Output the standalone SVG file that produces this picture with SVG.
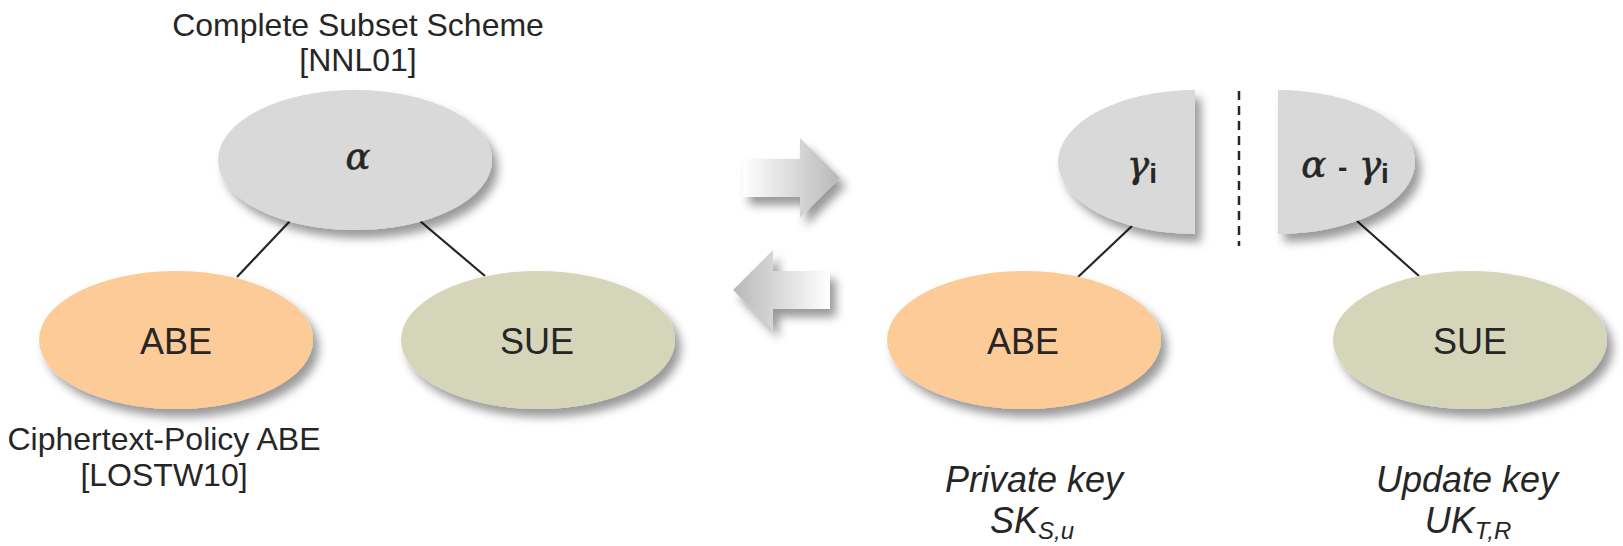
<svg xmlns="http://www.w3.org/2000/svg" width="1623" height="546" viewBox="0 0 1623 546">
  <defs>
    <filter id="shadow" x="-20%" y="-20%" width="150%" height="160%">
      <feDropShadow dx="6" dy="8" stdDeviation="5" flood-color="#000" flood-opacity="0.4"/>
    </filter>
    <linearGradient id="gradRight" x1="0" y1="0" x2="1" y2="0">
      <stop offset="0" stop-color="#ffffff"/>
      <stop offset="1" stop-color="#b8b8b8"/>
    </linearGradient>
    <linearGradient id="gradLeft" x1="0" y1="0" x2="1" y2="0">
      <stop offset="0" stop-color="#b8b8b8"/>
      <stop offset="1" stop-color="#ffffff"/>
    </linearGradient>
    <style>
      .lbl { font-family: "Liberation Sans", Arial, sans-serif; fill: #262626; text-anchor: middle; }
      .cap { font-size: 32px; }
      .node { font-size: 36px; }
      .key { font-size: 36px; font-style: italic; }
      .sub { font-size: 24px; }
      .math { font-family: "DejaVu Serif", "Liberation Serif", serif; font-style: italic; font-size: 37px; fill: #262626; stroke: #262626; stroke-width: 0.6; }
      .idx { font-family: "Liberation Sans", Arial, sans-serif; font-style: normal; font-weight: bold; font-size: 28px; stroke: none; }
      .grey { fill: #d9d9d9; filter: url(#shadow); }
      .abe { fill: #fdcb98; filter: url(#shadow); }
      .sue { fill: #d5d6b9; filter: url(#shadow); }
      .edge { stroke: #262626; stroke-width: 2.2; fill: none; }
    </style>
  </defs>

  <rect width="1623" height="546" fill="#ffffff"/>

  <!-- connectors -->
  <g id="connectors">
    <line class="edge" x1="290" y1="221" x2="237" y2="277"/>
    <line class="edge" x1="420" y1="221" x2="485" y2="276"/>
    <line class="edge" x1="1132" y1="226" x2="1078" y2="277"/>
    <line class="edge" x1="1357" y1="221" x2="1419" y2="276"/>
    <line x1="1239" y1="91" x2="1239" y2="246" stroke="#262626" stroke-width="2.5" stroke-dasharray="9 6"/>
  </g>

  <!-- left tree -->
  <g id="title">
    <text class="lbl cap" x="358" y="36">Complete Subset Scheme</text>
    <text class="lbl cap" x="358" y="71">[NNL01]</text>
  </g>

  <g id="node-alpha">
    <ellipse class="grey" cx="355" cy="160" rx="137" ry="70"/>
    <text class="math" x="358" y="169" text-anchor="middle">α</text>
  </g>

  <g id="node-abe-left">
    <ellipse class="abe" cx="176" cy="340" rx="137" ry="69"/>
    <text class="lbl node" x="176" y="354">ABE</text>
  </g>

  <g id="node-sue-left">
    <ellipse class="sue" cx="538" cy="340" rx="137" ry="69"/>
    <text class="lbl node" x="537" y="354">SUE</text>
  </g>

  <g id="cpabe-label">
    <text class="lbl cap" x="164" y="450">Ciphertext-Policy ABE</text>
    <text class="lbl cap" x="164" y="486">[LOSTW10]</text>
  </g>

  <!-- transition arrows -->
  <g id="arrow-forward">
    <polygon points="743,159 800,159 800,138 840,178 800,218 800,197 743,197" fill="url(#gradRight)" filter="url(#shadow)"/>
  </g>
  <g id="arrow-back">
    <polygon points="830,271 773,271 773,250 733,290 773,330 773,309 830,309" fill="url(#gradLeft)" filter="url(#shadow)"/>
  </g>

  <!-- right tree: split key -->
  <g id="node-gamma">
    <path class="grey" d="M1195,90 A137,72 0 0 0 1195,234 Z"/>
    <text class="math" x="1142" y="177" text-anchor="middle">γ<tspan class="idx" dy="6">i</tspan></text>
  </g>

  <g id="node-alpha-minus-gamma">
    <path class="grey" d="M1278,90 A137,72 0 0 1 1278,234 Z"/>
    <text class="math" x="1345" y="177" text-anchor="middle">α <tspan class="idx" font-size="32">-</tspan> γ<tspan class="idx" dy="6">i</tspan></text>
  </g>

  <g id="node-abe-right">
    <ellipse class="abe" cx="1024" cy="340" rx="137" ry="69"/>
    <text class="lbl node" x="1023" y="354">ABE</text>
  </g>

  <g id="node-sue-right">
    <ellipse class="sue" cx="1470" cy="340" rx="137" ry="69"/>
    <text class="lbl node" x="1470" y="354">SUE</text>
  </g>

  <g id="private-key-label">
    <text class="lbl key" x="1034" y="492">Private key</text>
    <text class="lbl key" x="1032" y="533">SK<tspan class="sub" dy="6">S,u</tspan></text>
  </g>

  <g id="update-key-label">
    <text class="lbl key" x="1467" y="492">Update key</text>
    <text class="lbl key" x="1468" y="533">UK<tspan class="sub" dy="6">T,R</tspan></text>
  </g>
</svg>
